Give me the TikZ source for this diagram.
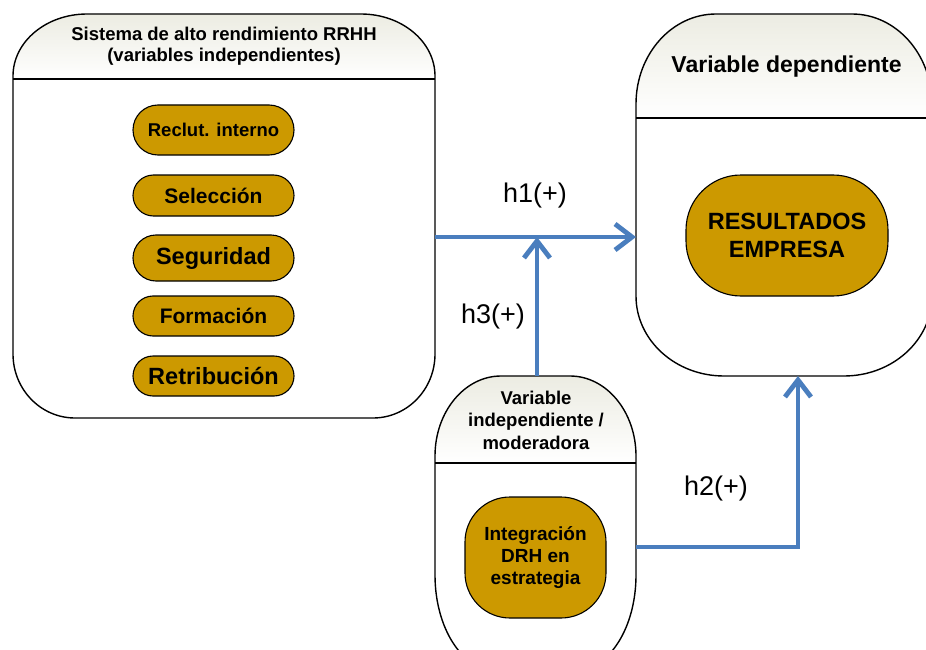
\documentclass[tikz,border=0pt]{standalone}
\usepackage{fontspec}
\setmainfont{Liberation Sans}
\usetikzlibrary{arrows.meta}
\definecolor{gold}{RGB}{204,153,0}
\definecolor{arrblue}{RGB}{74,126,190}
\definecolor{hdr}{RGB}{236,236,226}
% container outline: x0 y0 x1 y1 rx-top ry-top rx-bottom ry-bottom
\newcommand\cpath[8]{%
 (#1,#2+#6) arc[start angle=180,end angle=270,x radius=#5,y radius=#6]
 -- (#3-#5,#2) arc[start angle=270,end angle=360,x radius=#5,y radius=#6]
 -- (#3,#4-#8) arc[start angle=0,end angle=90,x radius=#7,y radius=#8]
 -- (#1+#7,#4) arc[start angle=90,end angle=180,x radius=#7,y radius=#8]
 -- cycle}
\newcommand\fs[2]{\fontsize{#1}{#2}\selectfont}
\tikzset{
  outline/.style={draw=black, line width=1.4pt},
  hdrline/.style={draw=black, line width=1.4pt},
  placeholder/.style={inner sep=0pt, outer sep=0pt},
  pill/.style={draw=black, line width=1.1pt, fill=gold, inner sep=0pt,
    align=center, text=black, font=\bfseries},
  hdrtext/.style={align=center, text=black, font=\bfseries},
  hlabel/.style={text=black, font=\fs{27}{30}},
  arr/.style={draw=arrblue, line width=4.8pt, line join=miter,
    -{Straight Barb[length=17pt,width=26pt]}}
}
\begin{document}
\begin{tikzpicture}[x=1pt,y=-1pt]
\clip (0,0) rectangle (926,650);
\useasboundingbox (0,0) rectangle (926,650);
\fill[white] (0,0) rectangle (926,650);

% ---- left container
\begin{scope}
  \clip \cpath{13}{14}{435}{418}{74}{62}{62}{64};
  \shade[top color=hdr, bottom color=white] (13,14) rectangle (435,79);
\end{scope}
\draw[hdrline] (13,79) -- (435,79);
\draw[outline] \cpath{13}{14}{435}{418}{74}{62}{62}{64};
\node[placeholder, minimum width=422pt, minimum height=404pt] (leftbox) at (224,216) {};

% ---- right container
\begin{scope}
  \clip \cpath{636}{14}{932}{376}{80}{90}{88}{80};
  \shade[top color=hdr, bottom color=white] (636,14) rectangle (932,118);
\end{scope}
\draw[hdrline] (636,118) -- (932,118);
\draw[outline] \cpath{636}{14}{932}{376}{80}{90}{88}{80};
\node[placeholder, minimum width=296pt, minimum height=362pt] (rightbox) at (784,195) {};

% ---- moderator container
\begin{scope}
  \clip \cpath{435}{376}{636}{670}{66}{80}{60}{95};
  \shade[top color=hdr, bottom color=white] (435,376) rectangle (636,463);
\end{scope}
\draw[hdrline] (435,463) -- (636,463);
\draw[outline] \cpath{435}{376}{636}{670}{66}{80}{60}{95};
\node[placeholder, minimum width=201pt, minimum height=294pt] (modbox) at (535.5,523) {};

% ---- headers
\node[hdrtext, font=\bfseries\fs{18.5}{21}] (lefthdr) at (224,46)
  {Sistema de alto rendimiento RRHH\\(variables independientes)};
\node[hdrtext, font=\bfseries\fs{23}{26}] (righthdr) at (786.5,67) {Variable dependiente};
\node[hdrtext, font=\bfseries\fs{18.5}{22.5}] (modhdr) at (536,420)
  {Variable\\independiente /\\moderadora};

% ---- inner items
\node[pill, minimum width=161pt, minimum height=50pt, rounded corners=25pt,
  font=\bfseries\fs{18.5}{22}] (recl) at (213.5,130) {Reclut. interno};
\node[pill, minimum width=161pt, minimum height=41pt, rounded corners=20.5pt,
  font=\bfseries\fs{21}{24}] (selec) at (213.5,195.5) {Selección};
\node[pill, minimum width=161pt, minimum height=46pt, rounded corners=23pt,
  font=\bfseries\fs{23.5}{26}] (segur) at (213.5,258) {Seguridad};
\node[pill, minimum width=161pt, minimum height=40pt, rounded corners=20pt,
  font=\bfseries\fs{21}{24}] (forma) at (213.5,316) {Formación};
\node[pill, minimum width=161pt, minimum height=40pt, rounded corners=20pt,
  font=\bfseries\fs{23.5}{26}] (retri) at (213.5,376) {Retribución};

\node[pill, minimum width=202pt, minimum height=121pt, rounded corners=55pt,
  font=\bfseries\fs{23.5}{28}] (result) at (787,235.5) {RESULTADOS\\EMPRESA};
\node[pill, minimum width=141pt, minimum height=121pt, rounded corners=45pt,
  font=\bfseries\fs{19}{22}] (integ) at (535.5,557.5) {Integración\\DRH en\\estrategia};

% ---- connectors
\coordinate (j) at (537,237);
\coordinate (k) at (798,547);
\draw[arr] (leftbox.east |- j) -- (rightbox.west |- j);
\draw[arr] (j |- modbox.north) -- (j);
\draw[arr] (modbox.east |- k) -- (k) -- (k |- rightbox.south);

% ---- labels
\node[hlabel] (h1) at (535,196) {h1(+)};
\node[hlabel] (h3) at (493,317) {h3(+)};
\node[hlabel] (h2) at (716,489) {h2(+)};
\end{tikzpicture}
\end{document}
